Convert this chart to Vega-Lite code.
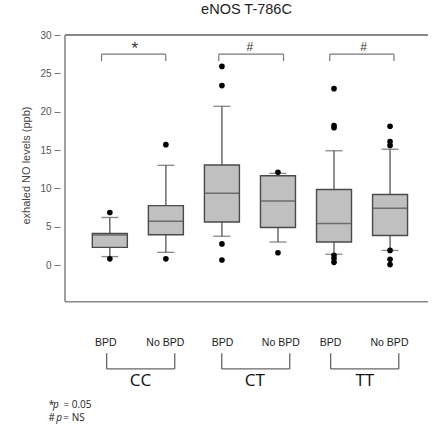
{
  "$schema": "https://vega.github.io/schema/vega-lite/v6.json",
  "autosize": "none",
  "width": 373,
  "height": 393,
  "padding": {"left": 60, "top": 35, "right": 0, "bottom": 0},
  "background": "white",
  "config": {
    "view": {"stroke": "transparent"},
    "font": "Liberation Sans",
    "axisX": {"disable": true},
    "axisY": {"domain": false, "grid": false, "tickColor": "#777", "tickSize": 6,
      "labelFontSize": 10, "labelColor": "#555", "labelPadding": 3,
      "titleFontSize": 11, "titleFontWeight": "normal", "titleColor": "#444", "titleX": -29, "titleY": 130}
  },
  "title": {"text": "eNOS T-786C", "fontSize": 14.5, "fontWeight": "normal", "color": "#222", "offset": 13, "font": "Liberation Sans"},
  "datasets": {
    "boxes": [
      {"pos": 1, "genotype": "CC", "group": "BPD", "lo": 1.1, "q1": 2.3, "med": 3.9, "q3": 4.1, "hi": 6.2},
      {"pos": 2, "genotype": "CC", "group": "No BPD", "lo": 1.65, "q1": 3.95, "med": 5.7, "q3": 7.75, "hi": 13.0},
      {"pos": 3, "genotype": "CT", "group": "BPD", "lo": 3.75, "q1": 5.6, "med": 9.35, "q3": 13.05, "hi": 20.7},
      {"pos": 4, "genotype": "CT", "group": "No BPD", "lo": 3.0, "q1": 4.9, "med": 8.35, "q3": 11.65, "hi": 11.95},
      {"pos": 5, "genotype": "TT", "group": "BPD", "lo": 1.4, "q1": 3.0, "med": 5.4, "q3": 9.85, "hi": 14.9},
      {"pos": 6, "genotype": "TT", "group": "No BPD", "lo": 1.9, "q1": 3.85, "med": 7.4, "q3": 9.2, "hi": 15.1}
    ],
    "outliers": [
      {"pos": 1, "value": 6.85}, {"pos": 1, "value": 0.8},
      {"pos": 2, "value": 15.7}, {"pos": 2, "value": 0.8},
      {"pos": 3, "value": 25.9}, {"pos": 3, "value": 23.4}, {"pos": 3, "value": 2.75}, {"pos": 3, "value": 0.65},
      {"pos": 4, "value": 12.1}, {"pos": 4, "value": 1.6},
      {"pos": 5, "value": 23.0}, {"pos": 5, "value": 18.2}, {"pos": 5, "value": 17.9}, {"pos": 5, "value": 1.25}, {"pos": 5, "value": 0.85}, {"pos": 5, "value": 0.35},
      {"pos": 6, "value": 18.1}, {"pos": 6, "value": 16.1}, {"pos": 6, "value": 15.6}, {"pos": 6, "value": 1.9}, {"pos": 6, "value": 0.75}, {"pos": 6, "value": 0.05}
    ],
    "segments": [
      {"kind": "frameTop", "x1": 0.2, "y1": 30, "x2": 6.677, "y2": 30},
      {"kind": "frame", "x1": 0.2, "y1": -4.8, "x2": 0.2, "y2": 30},
      {"kind": "frame", "x1": 0.2, "y1": -4.8, "x2": 6.677, "y2": -4.8},
      {"kind": "sig", "x1": 0.852, "y1": 27.5, "x2": 1.998, "y2": 27.5},
      {"kind": "sig", "x1": 0.852, "y1": 26.6, "x2": 0.852, "y2": 27.5},
      {"kind": "sig", "x1": 1.998, "y1": 26.6, "x2": 1.998, "y2": 27.5},
      {"kind": "sig", "x1": 2.944, "y1": 27.5, "x2": 4.099, "y2": 27.5},
      {"kind": "sig", "x1": 2.944, "y1": 26.6, "x2": 2.944, "y2": 27.5},
      {"kind": "sig", "x1": 4.099, "y1": 26.6, "x2": 4.099, "y2": 27.5},
      {"kind": "sig", "x1": 4.924, "y1": 27.5, "x2": 6.07, "y2": 27.5},
      {"kind": "sig", "x1": 4.924, "y1": 26.6, "x2": 4.924, "y2": 27.5},
      {"kind": "sig", "x1": 6.07, "y1": 26.6, "x2": 6.07, "y2": 27.5},
      {"kind": "grp", "x1": 0.943, "y1": -13.56, "x2": 2.158, "y2": -13.56},
      {"kind": "grp", "x1": 0.943, "y1": -11.5, "x2": 0.943, "y2": -13.56},
      {"kind": "grp", "x1": 2.158, "y1": -11.5, "x2": 2.158, "y2": -13.56},
      {"kind": "grp", "x1": 2.997, "y1": -13.56, "x2": 4.21, "y2": -13.56},
      {"kind": "grp", "x1": 2.997, "y1": -11.5, "x2": 2.997, "y2": -13.56},
      {"kind": "grp", "x1": 4.21, "y1": -11.5, "x2": 4.21, "y2": -13.56},
      {"kind": "grp", "x1": 4.94, "y1": -13.56, "x2": 6.156, "y2": -13.56},
      {"kind": "grp", "x1": 4.94, "y1": -11.5, "x2": 4.94, "y2": -13.56},
      {"kind": "grp", "x1": 6.156, "y1": -11.5, "x2": 6.156, "y2": -13.56}
    ],
    "texts": [
      {"kind": "star", "x": 1.446, "y": 28.2, "text": "*"},
      {"kind": "sig", "x": 3.5, "y": 28.5, "text": "#"},
      {"kind": "sig", "x": 5.53, "y": 28.5, "text": "#"},
      {"kind": "cat", "x": 0.93, "y": -10.2, "text": "BPD"},
      {"kind": "cat", "x": 1.99, "y": -10.2, "text": "No BPD"},
      {"kind": "cat", "x": 3.01, "y": -10.2, "text": "BPD"},
      {"kind": "cat", "x": 4.05, "y": -10.2, "text": "No BPD"},
      {"kind": "cat", "x": 4.94, "y": -10.2, "text": "BPD"},
      {"kind": "cat", "x": 5.99, "y": -10.2, "text": "No BPD"},
      {"kind": "geno", "x": 1.547, "y": -15.1, "text": "CC"},
      {"kind": "geno", "x": 3.587, "y": -15.1, "text": "CT"},
      {"kind": "geno", "x": 5.549, "y": -15.1, "text": "TT"},
      {"kind": "note", "x": -0.089, "y": -18.26, "text": "*"},
      {"kind": "noteItalic", "x": -0.012, "y": -18.26, "text": "p"},
      {"kind": "note", "x": 0.172, "y": -18.26, "text": "= 0.05"},
      {"kind": "note", "x": -0.094, "y": -19.96, "text": "#"},
      {"kind": "noteItalic", "x": 0.045, "y": -19.96, "text": "p"},
      {"kind": "note", "x": 0.17, "y": -19.96, "text": "= NS"}
    ]
  },
  "layer": [
    {
      "data": {"name": "segments"},
      "transform": [{"filter": "datum.kind === 'frameTop'"}],
      "mark": {"type": "rule", "color": "#888", "strokeWidth": 2},
      "encoding": {
        "x": {"field": "x1", "type": "quantitative", "scale": {"domain": [0.2, 6.677], "nice": false, "zero": false}},
        "y": {"field": "y1", "type": "quantitative", "title": "exhaled NO levels (ppb)", "axis": {"values": [0, 5, 10, 15, 20, 25, 30]}, "scale": {"domain": [-21.26, 30], "nice": false, "zero": false}},
        "x2": {"field": "x2"},
        "y2": {"field": "y2"}
      }
    },
    {
      "data": {"name": "segments"},
      "transform": [{"filter": "datum.kind === 'frame'"}],
      "mark": {"type": "rule", "color": "#888", "strokeWidth": 1.6},
      "encoding": {
        "x": {"field": "x1", "type": "quantitative", "scale": {"domain": [0.2, 6.677], "nice": false, "zero": false}},
        "y": {"field": "y1", "type": "quantitative", "title": "exhaled NO levels (ppb)", "axis": {"values": [0, 5, 10, 15, 20, 25, 30]}, "scale": {"domain": [-21.26, 30], "nice": false, "zero": false}},
        "x2": {"field": "x2"},
        "y2": {"field": "y2"}
      }
    },
    {
      "data": {"name": "boxes"},
      "mark": {"type": "rule", "color": "#555", "strokeWidth": 1.3},
      "encoding": {
        "x": {"field": "pos", "type": "quantitative", "scale": {"domain": [0.2, 6.677], "nice": false, "zero": false}},
        "y": {"field": "lo", "type": "quantitative", "title": "exhaled NO levels (ppb)", "axis": {"values": [0, 5, 10, 15, 20, 25, 30]}, "scale": {"domain": [-21.26, 30], "nice": false, "zero": false}},
        "y2": {"field": "hi"}
      }
    },
    {
      "data": {"name": "boxes"},
      "mark": {"type": "tick", "orient": "horizontal", "size": 17, "thickness": 1.3, "color": "#555"},
      "encoding": {
        "x": {"field": "pos", "type": "quantitative", "scale": {"domain": [0.2, 6.677], "nice": false, "zero": false}},
        "y": {"field": "lo", "type": "quantitative", "title": "exhaled NO levels (ppb)", "axis": {"values": [0, 5, 10, 15, 20, 25, 30]}, "scale": {"domain": [-21.26, 30], "nice": false, "zero": false}}
      }
    },
    {
      "data": {"name": "boxes"},
      "mark": {"type": "tick", "orient": "horizontal", "size": 17, "thickness": 1.3, "color": "#555"},
      "encoding": {
        "x": {"field": "pos", "type": "quantitative", "scale": {"domain": [0.2, 6.677], "nice": false, "zero": false}},
        "y": {"field": "hi", "type": "quantitative", "title": "exhaled NO levels (ppb)", "axis": {"values": [0, 5, 10, 15, 20, 25, 30]}, "scale": {"domain": [-21.26, 30], "nice": false, "zero": false}}
      }
    },
    {
      "data": {"name": "boxes"},
      "mark": {"type": "bar", "width": 35, "fill": "#c0c0c0", "stroke": "#4a4a4a", "strokeWidth": 1.4},
      "encoding": {
        "x": {"field": "pos", "type": "quantitative", "scale": {"domain": [0.2, 6.677], "nice": false, "zero": false}},
        "y": {"field": "q1", "type": "quantitative", "title": "exhaled NO levels (ppb)", "axis": {"values": [0, 5, 10, 15, 20, 25, 30]}, "scale": {"domain": [-21.26, 30], "nice": false, "zero": false}},
        "y2": {"field": "q3"}
      }
    },
    {
      "data": {"name": "boxes"},
      "mark": {"type": "tick", "orient": "horizontal", "size": 35, "thickness": 1.5, "color": "#4a4a4a"},
      "encoding": {
        "x": {"field": "pos", "type": "quantitative", "scale": {"domain": [0.2, 6.677], "nice": false, "zero": false}},
        "y": {"field": "med", "type": "quantitative", "title": "exhaled NO levels (ppb)", "axis": {"values": [0, 5, 10, 15, 20, 25, 30]}, "scale": {"domain": [-21.26, 30], "nice": false, "zero": false}}
      }
    },
    {
      "data": {"name": "outliers"},
      "mark": {"type": "point", "filled": true, "shape": "circle", "size": 32, "color": "#000", "opacity": 1},
      "encoding": {
        "x": {"field": "pos", "type": "quantitative", "scale": {"domain": [0.2, 6.677], "nice": false, "zero": false}},
        "y": {"field": "value", "type": "quantitative", "title": "exhaled NO levels (ppb)", "axis": {"values": [0, 5, 10, 15, 20, 25, 30]}, "scale": {"domain": [-21.26, 30], "nice": false, "zero": false}}
      }
    },
    {
      "data": {"name": "segments"},
      "transform": [{"filter": "datum.kind === 'sig'"}],
      "mark": {"type": "rule", "color": "#777", "strokeWidth": 1.2},
      "encoding": {
        "x": {"field": "x1", "type": "quantitative", "scale": {"domain": [0.2, 6.677], "nice": false, "zero": false}},
        "y": {"field": "y1", "type": "quantitative", "title": "exhaled NO levels (ppb)", "axis": {"values": [0, 5, 10, 15, 20, 25, 30]}, "scale": {"domain": [-21.26, 30], "nice": false, "zero": false}},
        "x2": {"field": "x2"},
        "y2": {"field": "y2"}
      }
    },
    {
      "data": {"name": "segments"},
      "transform": [{"filter": "datum.kind === 'grp'"}],
      "mark": {"type": "rule", "color": "#666", "strokeWidth": 1.3},
      "encoding": {
        "x": {"field": "x1", "type": "quantitative", "scale": {"domain": [0.2, 6.677], "nice": false, "zero": false}},
        "y": {"field": "y1", "type": "quantitative", "title": "exhaled NO levels (ppb)", "axis": {"values": [0, 5, 10, 15, 20, 25, 30]}, "scale": {"domain": [-21.26, 30], "nice": false, "zero": false}},
        "x2": {"field": "x2"},
        "y2": {"field": "y2"}
      }
    },
    {
      "data": {"name": "texts"},
      "transform": [{"filter": "datum.kind === 'sig'"}],
      "mark": {"type": "text", "fontSize": 12, "color": "#333", "baseline": "middle", "align": "center"},
      "encoding": {
        "x": {"field": "x", "type": "quantitative", "scale": {"domain": [0.2, 6.677], "nice": false, "zero": false}},
        "y": {"field": "y", "type": "quantitative", "title": "exhaled NO levels (ppb)", "axis": {"values": [0, 5, 10, 15, 20, 25, 30]}, "scale": {"domain": [-21.26, 30], "nice": false, "zero": false}},
        "text": {"field": "text"}
      }
    },
    {
      "data": {"name": "texts"},
      "transform": [{"filter": "datum.kind === 'star'"}],
      "mark": {"type": "text", "fontSize": 17, "color": "#333", "baseline": "middle", "align": "center"},
      "encoding": {
        "x": {"field": "x", "type": "quantitative", "scale": {"domain": [0.2, 6.677], "nice": false, "zero": false}},
        "y": {"field": "y", "type": "quantitative", "title": "exhaled NO levels (ppb)", "axis": {"values": [0, 5, 10, 15, 20, 25, 30]}, "scale": {"domain": [-21.26, 30], "nice": false, "zero": false}},
        "text": {"field": "text"}
      }
    },
    {
      "data": {"name": "texts"},
      "transform": [{"filter": "datum.kind === 'cat'"}],
      "mark": {"type": "text", "fontSize": 10.5, "color": "#222", "baseline": "middle", "align": "center"},
      "encoding": {
        "x": {"field": "x", "type": "quantitative", "scale": {"domain": [0.2, 6.677], "nice": false, "zero": false}},
        "y": {"field": "y", "type": "quantitative", "title": "exhaled NO levels (ppb)", "axis": {"values": [0, 5, 10, 15, 20, 25, 30]}, "scale": {"domain": [-21.26, 30], "nice": false, "zero": false}},
        "text": {"field": "text"}
      }
    },
    {
      "data": {"name": "texts"},
      "transform": [{"filter": "datum.kind === 'geno'"}],
      "mark": {"type": "text", "font": "Open Sans", "fontSize": 17, "color": "#111", "baseline": "middle", "align": "center"},
      "encoding": {
        "x": {"field": "x", "type": "quantitative", "scale": {"domain": [0.2, 6.677], "nice": false, "zero": false}},
        "y": {"field": "y", "type": "quantitative", "title": "exhaled NO levels (ppb)", "axis": {"values": [0, 5, 10, 15, 20, 25, 30]}, "scale": {"domain": [-21.26, 30], "nice": false, "zero": false}},
        "text": {"field": "text"}
      }
    },
    {
      "data": {"name": "texts"},
      "transform": [{"filter": "datum.kind === 'note'"}],
      "mark": {"type": "text", "font": "Open Sans", "fontSize": 10, "color": "#222", "baseline": "middle", "align": "left"},
      "encoding": {
        "x": {"field": "x", "type": "quantitative", "scale": {"domain": [0.2, 6.677], "nice": false, "zero": false}},
        "y": {"field": "y", "type": "quantitative", "title": "exhaled NO levels (ppb)", "axis": {"values": [0, 5, 10, 15, 20, 25, 30]}, "scale": {"domain": [-21.26, 30], "nice": false, "zero": false}},
        "text": {"field": "text"}
      }
    },
    {
      "data": {"name": "texts"},
      "transform": [{"filter": "datum.kind === 'noteItalic'"}],
      "mark": {"type": "text", "font": "Open Sans", "fontSize": 10, "fontStyle": "italic", "color": "#222", "baseline": "middle", "align": "left"},
      "encoding": {
        "x": {"field": "x", "type": "quantitative", "scale": {"domain": [0.2, 6.677], "nice": false, "zero": false}},
        "y": {"field": "y", "type": "quantitative", "title": "exhaled NO levels (ppb)", "axis": {"values": [0, 5, 10, 15, 20, 25, 30]}, "scale": {"domain": [-21.26, 30], "nice": false, "zero": false}},
        "text": {"field": "text"}
      }
    }
  ]
}
